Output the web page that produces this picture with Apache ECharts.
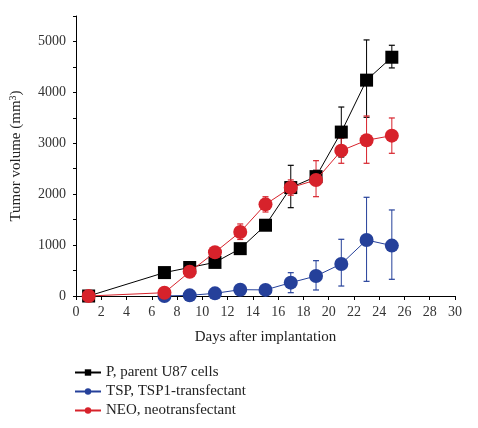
<!DOCTYPE html>
<html><head><meta charset="utf-8">
<script src="https://cdn.jsdelivr.net/npm/echarts@6/dist/echarts.min.js"></script>
<style>html,body{margin:0;padding:0;background:#fff}#c{width:478px;height:428px}</style>
</head><body><div id="c"></div>
<script>
const seriesNames = ['P, parent U87 cells', 'TSP, TSP1-transfectant', 'NEO, neotransfectant'];
const pDays = [1, 7, 9, 11, 13, 15, 17, 19, 21, 23, 25];
const pValues = [0, 460, 560, 660, 930, 1390, 2130, 2345, 3220, 4240, 4690];
const pErrLow = [0, 400, 520, 620, 870, 1340, 1735, 2220, 2730, 3510, 4480];
const pErrHigh = [0, 520, 600, 700, 990, 1440, 2567, 2470, 3712, 5030, 4925];
const tDays = [7, 9, 11, 13, 15, 17, 19, 21, 23, 25];
const tValues = [0, 13, 52, 124, 120, 262, 393, 630, 1100, 990];
const tErrLow = [0, 0, 30, 90, 90, 65, 118, 196, 288, 328];
const tErrHigh = [0, 30, 75, 160, 150, 458, 694, 1114, 1939, 1690];
const nDays = [1, 7, 9, 11, 13, 15, 17, 19, 21, 23, 25];
const nValues = [0, 65, 475, 858, 1257, 1800, 2128, 2279, 2855, 3059, 3150];
const nErrLow = [0, 40, 420, 800, 1110, 1650, 1980, 1951, 2607, 2607, 2803];
const nErrHigh = [0, 90, 520, 920, 1415, 1950, 2280, 2658, 3100, 3536, 3497];
const xTicks = [0, 2, 4, 6, 8, 10, 12, 14, 16, 18, 20, 22, 24, 26, 28, 30];
const yTicks = [0, 1000, 2000, 3000, 4000, 5000];

const colors = ['#000000', '#25409a', '#d7222b'];
const font = '"Liberation Serif", "DejaVu Serif", serif';

function pairs(xs, ys) { return xs.map((x, i) => [x, ys[i]]); }
function errData(xs, lo, hi) { return xs.map((x, i) => [x, lo[i], hi[i]]); }

function errSeries(data, color) {
  return {
    type: 'custom', silent: true, z: 3,
    renderItem: function (params, api) {
      const x = api.value(0), lo = api.value(1), hi = api.value(2);
      if (hi - lo <= 0) return null;
      const a = api.coord([x, lo]), b = api.coord([x, hi]);
      const w = 3;
      return {
        type: 'group', children: [
          { type: 'line', shape: { x1: a[0], y1: a[1], x2: b[0], y2: b[1] }, style: { stroke: color, lineWidth: 1 } },
          { type: 'line', shape: { x1: a[0] - w, y1: a[1], x2: a[0] + w, y2: a[1] }, style: { stroke: color, lineWidth: 1.2 } },
          { type: 'line', shape: { x1: b[0] - w, y1: b[1], x2: b[0] + w, y2: b[1] }, style: { stroke: color, lineWidth: 1.2 } }
        ]
      };
    },
    data: data
  };
}

const chart = echarts.init(document.getElementById('c'), null, { renderer: 'canvas' });
chart.setOption({
  animation: false,
  textStyle: { fontFamily: font },
  grid: { left: 74, right: 23, top: 16, bottom: 132, containLabel: false },
  legend: {
    orient: 'vertical', left: 69, top: 360, itemGap: 4, itemWidth: 26, itemHeight: 8,
    textStyle: { fontFamily: font, fontSize: 15, color: '#222' },
    data: seriesNames
  },
  xAxis: {
    type: 'value', min: 0, max: 30, interval: 2,
    name: 'Days after implantation', nameLocation: 'middle', nameGap: 34,
    nameTextStyle: { fontFamily: font, fontSize: 15, color: '#222' },
    axisLine: { lineStyle: { color: '#000', width: 1 } },
    axisTick: { show: true, length: 4, lineStyle: { color: '#000' } },
    axisLabel: { fontFamily: font, fontSize: 14, color: '#333', margin: 9,
      formatter: v => xTicks.includes(v) ? String(v) : '' },
    splitLine: { show: false }
  },
  yAxis: {
    type: 'value', min: 0, max: 5500, interval: 500,
    name: 'Tumor volume (mm{sup|3})', nameLocation: 'middle', nameGap: 51,
    nameTextStyle: { fontFamily: font, fontSize: 15, color: '#222',
      rich: { sup: { fontSize: 10, verticalAlign: 'top', padding: [0, 0, 7, 0], fontFamily: font, color: '#222' } } },
    axisLine: { show: true, lineStyle: { color: '#000', width: 1 } },
    axisTick: { show: true, length: 3, lineStyle: { color: '#000' } },
    axisLabel: { fontFamily: font, fontSize: 14, color: '#333', margin: 10,
      formatter: v => yTicks.includes(v) ? String(v) : '' },
    splitLine: { show: false }
  },
  series: [
    errSeries(errData(pDays, pErrLow, pErrHigh), colors[0]),
    errSeries(errData(tDays, tErrLow, tErrHigh), colors[1]),
    errSeries(errData(nDays, nErrLow, nErrHigh), colors[2]),
    { name: seriesNames[0], type: 'line', data: pairs(pDays, pValues), symbol: 'rect', symbolSize: 13,
      itemStyle: { color: colors[0] }, lineStyle: { color: colors[0], width: 1 }, z: 4 },
    { name: seriesNames[1], type: 'line', data: pairs(tDays, tValues), symbol: 'circle', symbolSize: 14,
      itemStyle: { color: colors[1] }, lineStyle: { color: colors[1], width: 1 }, z: 4 },
    { name: seriesNames[2], type: 'line', data: pairs(nDays, nValues), symbol: 'circle', symbolSize: 14,
      itemStyle: { color: colors[2] }, lineStyle: { color: colors[2], width: 1 }, z: 5 }
  ]
});
</script></body></html>
